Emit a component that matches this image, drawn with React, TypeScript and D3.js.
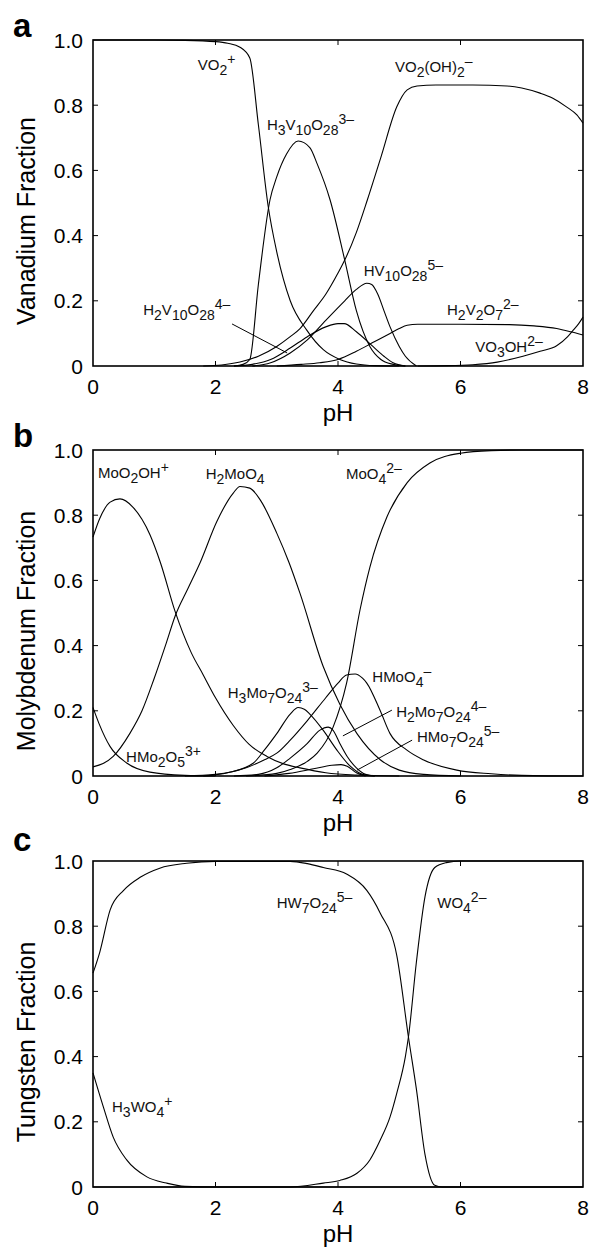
import React from 'react';
import * as d3 from 'd3';

type Pt = [number, number];

// ---------- axis ticks ----------
const xTicks = [0, 2, 4, 6, 8];
const yTicks = [0, 0.2, 0.4, 0.6, 0.8, 1.0];
const yTickLabels = ['0', '0.2', '0.4', '0.6', '0.8', '1.0'];

// ---------- panel a: vanadium ----------
const vVO2p: Pt[] = [[0,1],[1,1],[1.5,0.999],[2,0.995],[2.2,0.99],[2.4,0.978],[2.56,0.945],[2.7,0.74],[2.86,0.49],[3.0,0.35],[3.22,0.2],[3.49,0.11],[3.76,0.05],[4.03,0.02],[4.3,0.006],[4.6,0.001],[5,0]];
const vH3V10: Pt[] = [[2.3,0],[2.45,0.005],[2.56,0.02],[2.7,0.25],[2.89,0.51],[3.0,0.58],[3.16,0.65],[3.35,0.69],[3.54,0.67],[3.66,0.62],[3.87,0.51],[4.11,0.325],[4.3,0.17],[4.52,0.06],[4.7,0.02],[4.9,0.005],[5.1,0]];
const vVO2OH2: Pt[] = [[1.8,0],[2.1,0.003],[2.4,0.012],[2.7,0.03],[3.0,0.06],[3.22,0.09],[3.38,0.115],[3.6,0.17],[3.8,0.22],[4.0,0.285],[4.11,0.325],[4.3,0.41],[4.48,0.51],[4.7,0.64],[4.96,0.795],[5.13,0.847],[5.29,0.859],[5.6,0.862],[6.2,0.862],[6.76,0.859],[7.0,0.853],[7.3,0.837],[7.5,0.822],[7.73,0.795],[7.9,0.77],[8,0.745]];
const vH2V10: Pt[] = [[2.3,0],[2.6,0.005],[2.9,0.02],[3.22,0.055],[3.5,0.09],[3.8,0.12],[4.0,0.13],[4.1,0.13],[4.3,0.105],[4.57,0.06],[4.75,0.03],[4.9,0.01],[5.1,0]];
const vHV10: Pt[] = [[2.6,0],[2.9,0.01],[3.22,0.04],[3.5,0.08],[3.8,0.14],[4.11,0.2],[4.3,0.235],[4.47,0.254],[4.55,0.25],[4.65,0.22],[4.75,0.17],[4.85,0.12],[5.0,0.06],[5.1,0.03],[5.28,0]];
const vH2V2O7: Pt[] = [[3.0,0],[3.4,0.005],[3.7,0.01],[4.0,0.02],[4.3,0.045],[4.6,0.075],[4.85,0.1],[5.0,0.115],[5.13,0.125],[5.3,0.128],[6,0.128],[6.8,0.127],[7.2,0.123],[7.57,0.115],[7.8,0.105],[8,0.095]];
const vVO3OH: Pt[] = [[5.3,0],[5.8,0.001],[6.2,0.004],[6.6,0.012],[7.02,0.03],[7.3,0.045],[7.57,0.062],[7.75,0.09],[7.84,0.11],[7.93,0.13],[8,0.15]];

// ---------- panel b: molybdenum ----------
const mMoO2OH: Pt[] = [[0,0.733],[0.11,0.79],[0.28,0.84],[0.44,0.85],[0.65,0.825],[0.93,0.74],[1.1,0.655],[1.34,0.505],[1.6,0.38],[1.8,0.31],[2.0,0.24],[2.29,0.155],[2.55,0.097],[2.84,0.06],[3.1,0.038],[3.38,0.025],[3.8,0.01],[4.3,0.003],[5,0]];
const mH2MoO4: Pt[] = [[0,0.028],[0.33,0.06],[0.6,0.13],[0.8,0.2],[1.0,0.3],[1.2,0.41],[1.34,0.49],[1.55,0.575],[1.75,0.655],[2.02,0.78],[2.29,0.868],[2.4,0.888],[2.56,0.883],[2.73,0.847],[3.0,0.745],[3.2,0.655],[3.38,0.56],[3.76,0.335],[4.03,0.22],[4.31,0.13],[4.69,0.05],[5.0,0.018],[5.4,0.005],[6,0]];
const mMoO4: Pt[] = [[2.5,0],[3.0,0.008],[3.22,0.02],[3.5,0.045],[3.66,0.07],[3.92,0.15],[4.14,0.285],[4.36,0.51],[4.52,0.64],[4.8,0.795],[5.13,0.9],[5.5,0.96],[6.0,0.99],[6.5,0.998],[7,1],[8,1]];
const mH3Mo7: Pt[] = [[1.8,0],[2.2,0.01],[2.62,0.04],[2.8,0.08],[3.0,0.13],[3.22,0.19],[3.35,0.21],[3.45,0.205],[3.54,0.19],[3.76,0.14],[3.98,0.08],[4.2,0.03],[4.4,0.005],[4.6,0]];
const mHMoO4: Pt[] = [[1.5,0],[2.0,0.005],[2.5,0.025],[2.8,0.05],[3.0,0.07],[3.22,0.11],[3.5,0.17],[3.8,0.24],[4.0,0.285],[4.14,0.31],[4.28,0.313],[4.4,0.3],[4.47,0.285],[4.69,0.2],[4.85,0.13],[5.12,0.08],[5.39,0.05],[5.94,0.018],[6.5,0.007],[7,0.002],[8,0]];
const mH2Mo7: Pt[] = [[2.3,0],[2.7,0.005],[3.0,0.025],[3.22,0.055],[3.5,0.1],[3.7,0.14],[3.84,0.15],[3.92,0.14],[4.03,0.1],[4.15,0.06],[4.3,0.025],[4.45,0.005],[4.6,0]];
const mHMo7: Pt[] = [[2.8,0],[3.2,0.008],[3.6,0.022],[3.9,0.033],[4.05,0.035],[4.15,0.03],[4.3,0.01],[4.45,0]];
const mHMo2O5: Pt[] = [[0,0.21],[0.1,0.16],[0.28,0.09],[0.55,0.04],[0.93,0.012],[1.5,0.002],[2,0]];

// ---------- panel c: tungsten ----------
const wHW7: Pt[] = [[0,0.656],[0.11,0.72],[0.28,0.85],[0.5,0.91],[0.77,0.95],[1.09,0.978],[1.53,0.993],[2,0.999],[3.22,0.999],[3.5,0.992],[3.76,0.98],[4.14,0.96],[4.47,0.91],[4.69,0.84],[4.96,0.71],[5.15,0.46],[5.28,0.3],[5.42,0.1],[5.58,0.005],[5.7,0],[8,0]];
const wWO4: Pt[] = [[0,0],[3.22,0],[3.76,0.012],[4.03,0.02],[4.31,0.042],[4.52,0.083],[4.69,0.144],[4.85,0.215],[4.96,0.288],[5.1,0.4],[5.15,0.46],[5.28,0.69],[5.42,0.89],[5.58,0.98],[5.77,0.995],[6,1],[8,1]];
const wH3WO4: Pt[] = [[0,0.35],[0.17,0.245],[0.33,0.153],[0.55,0.083],[0.88,0.031],[1.2,0.012],[1.5,0.002],[2,0],[8,0]];

// ---------- labels (chem markup: _x subscript, ^x superscript) ----------
type Lab = { s: string; x: number; y: number };
const aLabels: Lab[] = [
  { s: 'VO_{2}^{+}', x: 1.71, y: 0.908 },
  { s: 'H_{3}V_{10}O_{28}^{3–}', x: 2.84, y: 0.724 },
  { s: 'VO_{2}(OH)_{2}^{–}', x: 4.93, y: 0.902 },
  { s: 'HV_{10}O_{28}^{5–}', x: 4.42, y: 0.276 },
  { s: 'H_{2}V_{10}O_{28}^{4–}', x: 0.82, y: 0.156 },
  { s: 'H_{2}V_{2}O_{7}^{2–}', x: 5.78, y: 0.156 },
  { s: 'VO_{3}OH^{2–}', x: 6.24, y: 0.043 },
];
const bLabels: Lab[] = [
  { s: 'MoO_{2}OH^{+}', x: 0.08, y: 0.914 },
  { s: 'H_{2}MoO_{4}', x: 1.84, y: 0.911 },
  { s: 'MoO_{4}^{2–}', x: 4.13, y: 0.911 },
  { s: 'H_{3}Mo_{7}O_{24}^{3–}', x: 2.2, y: 0.239 },
  { s: 'HMoO_{4}^{–}', x: 4.56, y: 0.288 },
  { s: 'H_{2}Mo_{7}O_{24}^{4–}', x: 4.95, y: 0.181 },
  { s: 'HMo_{7}O_{24}^{5–}', x: 5.29, y: 0.104 },
  { s: 'HMo_{2}O_{5}^{3+}', x: 0.54, y: 0.043 },
];
const cLabels: Lab[] = [
  { s: 'HW_{7}O_{24}^{5–}', x: 3.0, y: 0.856 },
  { s: 'WO_{4}^{2–}', x: 5.62, y: 0.856 },
  { s: 'H_{3}WO_{4}^{+}', x: 0.31, y: 0.23 },
];
const aPointers: [Pt, Pt][] = [[[2.27, 0.129], [3.17, 0.04]]];
const bPointers: [Pt, Pt][] = [[[4.08, 0.123], [4.88, 0.202]], [[4.31, 0.018], [5.21, 0.11]]];

const FONT = 'Liberation Sans, Arial, Helvetica, sans-serif';
const PX0 = 93, PX1 = 583, PH = 326;

function parseChem(s: string) {
  const out: { t: string; k: 'n' | 'sub' | 'sup' }[] = [];
  let i = 0, buf = '';
  while (i < s.length) {
    const c = s[i];
    if (c === '_' || c === '^') {
      if (buf) { out.push({ t: buf, k: 'n' }); buf = ''; }
      const k = c === '_' ? 'sub' : 'sup';
      if (s[i + 1] === '{') {
        const j = s.indexOf('}', i + 2);
        out.push({ t: s.slice(i + 2, j), k });
        i = j + 1;
      } else { out.push({ t: s[i + 1], k }); i += 2; }
    } else { buf += c; i++; }
  }
  if (buf) out.push({ t: buf, k: 'n' });
  return out;
}

function Chem({ x, y, s }: { x: number; y: number; s: string }) {
  const segs = parseChem(s);
  let cur = 0;
  return (
    <text x={x} y={y} fontSize={15} fontFamily={FONT} fill="#111">
      {segs.map((g, i) => {
        const target = g.k === 'sub' ? 5 : g.k === 'sup' ? -6 : 0;
        const dy = target - cur; cur = target;
        return <tspan key={i} dy={dy} fontSize={g.k === 'n' ? 15 : 14}>{g.t}</tspan>;
      })}
    </text>
  );
}

type PanelProps = {
  top: number; letter: string; letterY: number; ylabel: string;
  series: Pt[][]; labels: Lab[]; pointers: [Pt, Pt][];
};

function Panel({ top, letter, letterY, ylabel, series, labels, pointers }: PanelProps) {
  const x = d3.scaleLinear().domain([0, 8]).range([PX0, PX1]);
  const y = d3.scaleLinear().domain([0, 1]).range([top + PH, top]);
  const line = d3.line<Pt>().x(d => x(d[0])).y(d => y(d[1])).curve(d3.curveMonotoneX);
  const bottom = top + PH;
  const tl = 5;
  return (
    <g>
      {series.map((s, i) => (
        <path key={i} d={line(s) || ''} fill="none" stroke="#000" strokeWidth={1.1} />
      ))}
      <rect x={PX0} y={top} width={PX1 - PX0} height={PH} fill="none" stroke="#000" strokeWidth={1.6} />
      {xTicks.slice(1, -1).map(t => (
        <g key={'xt' + t}>
          <line x1={x(t)} x2={x(t)} y1={bottom} y2={bottom - tl} stroke="#000" strokeWidth={1} />
          <line x1={x(t)} x2={x(t)} y1={top} y2={top + tl} stroke="#000" strokeWidth={1} />
        </g>
      ))}
      {yTicks.slice(1, -1).map(t => (
        <g key={'yt' + t}>
          <line x1={PX0} x2={PX0 + tl} y1={y(t)} y2={y(t)} stroke="#000" strokeWidth={1} />
          <line x1={PX1} x2={PX1 - tl} y1={y(t)} y2={y(t)} stroke="#000" strokeWidth={1} />
        </g>
      ))}
      {xTicks.map(t => (
        <text key={'xl' + t} x={x(t)} y={bottom + 28} textAnchor="middle" fontSize={21} fontFamily={FONT}>{t}</text>
      ))}
      {yTicks.map((t, i) => (
        <text key={'yl' + t} x={83} y={y(t)} dy="0.36em" textAnchor="end" fontSize={21} fontFamily={FONT}>{yTickLabels[i]}</text>
      ))}
      <text x={x(4)} y={bottom + 55} textAnchor="middle" fontSize={24} fontFamily={FONT}>pH</text>
      <text transform={`translate(35,${top + PH / 2 + 18}) rotate(-90)`} textAnchor="middle" fontSize={25} fontFamily={FONT}>{ylabel}</text>
      <text x={13} y={letterY} fontSize={33} fontWeight="bold" fontFamily={FONT}>{letter}</text>
      {labels.map((l, i) => <Chem key={i} x={x(l.x)} y={y(l.y)} s={l.s} />)}
      {pointers.map((p, i) => (
        <line key={'p' + i} x1={x(p[0][0])} y1={y(p[0][1])} x2={x(p[1][0])} y2={y(p[1][1])} stroke="#000" strokeWidth={1} />
      ))}
    </g>
  );
}

export default function App() {
  return (
    <svg width={590} height={1247} style={{ position: 'absolute', left: 0, top: 0, background: '#fff' }}>
      <rect width={590} height={1247} fill="#fff" />
      <Panel top={40} letter="a" letterY={37} ylabel="Vanadium Fraction"
        series={[vVO2p, vH3V10, vVO2OH2, vH2V10, vHV10, vH2V2O7, vVO3OH]} labels={aLabels} pointers={aPointers} />
      <Panel top={450} letter="b" letterY={447} ylabel="Molybdenum Fraction"
        series={[mMoO2OH, mH2MoO4, mMoO4, mH3Mo7, mHMoO4, mH2Mo7, mHMo7, mHMo2O5]} labels={bLabels} pointers={bPointers} />
      <Panel top={861} letter="c" letterY={851} ylabel="Tungsten Fraction"
        series={[wHW7, wWO4, wH3WO4]} labels={cLabels} pointers={[]} />
    </svg>
  );
}
